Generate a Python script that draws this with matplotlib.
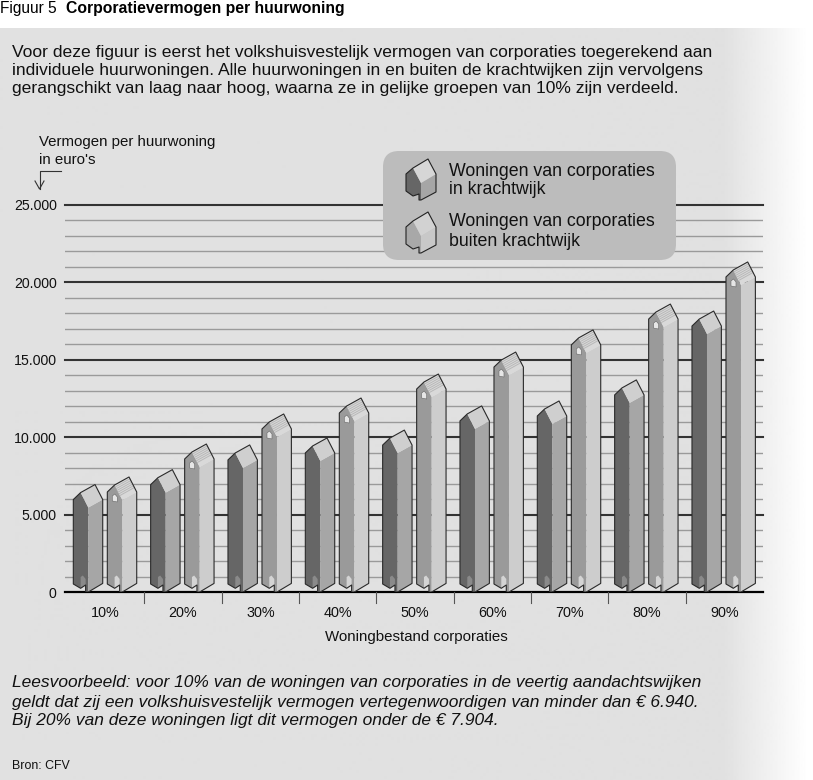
"""
Figuur 5 - Corporatievermogen per huurwoning
"""

import numpy as np
import matplotlib
matplotlib.use("Agg")
import matplotlib.pyplot as plt
from matplotlib.patches import Polygon, FancyBboxPatch

plt.rcParams["font.family"] = ["Liberation Sans", "DejaVu Sans"]

W, H = 813, 780

# =============================================================================
# Data (values read at the roof peak of each house)
# =============================================================================

categories = ["10%", "20%", "30%", "40%", "50%", "60%", "70%", "80%", "90%"]
binnen = [6940, 7904, 9500, 9950, 10460, 12020, 12340, 13700, 18150]
buiten = [7430, 9560, 11500, 12530, 14080, 15500, 16930, 18600, 21320]
y_ticks = [0, 5000, 10000, 15000, 20000, 25000]
y_labels = ["0", "5.000", "10.000", "15.000", "20.000", "25.000"]

intro = ["Voor deze figuur is eerst het volkshuisvestelijk vermogen van corporaties toegerekend aan",
         "individuele huurwoningen. Alle huurwoningen in en buiten de krachtwijken zijn vervolgens",
         "gerangschikt van laag naar hoog, waarna ze in gelijke groepen van 10% zijn verdeeld."]
lees = ["Leesvoorbeeld: voor 10% van de woningen van corporaties in de veertig aandachtswijken",
        "geldt dat zij een volkshuisvestelijk vermogen vertegenwoordigen van minder dan € 6.940.",
        "Bij 20% van deze woningen ligt dit vermogen onder de € 7.904."]

# =============================================================================
# Figure and background
# =============================================================================

fig = plt.figure(figsize=(W / 100, H / 100), dpi=100, facecolor="white")

bg = fig.add_axes([0, 0, 1, 1], zorder=0)
bg.axis("off")

# grey panel that fades out to white on the right
ramp = np.clip((np.arange(W) - 722) / 85, 0, 1)
fade = 0.88 + (1 - 0.88) * ramp
bg.imshow(fade[np.newaxis, :], extent=(0, W, H, 28), cmap="gray", vmin=0, vmax=1,
          aspect="auto", zorder=0)
bg.set_xlim(0, W)
bg.set_ylim(H, 0)

bg.text(0, 8, "Figuur 5", fontsize=11.2, va="center", ha="left")
bg.text(66, 8, "Corporatievermogen per huurwoning", fontsize=11.3, fontweight="bold",
        va="center", ha="left")

for i, line in enumerate(intro):
    bg.text(12, 52.5 + i * 18, line, fontsize=12.6, va="center", ha="left", color="#111111")
for i, line in enumerate(lees):
    bg.text(12, 683 + i * 19, line, fontsize=12.5, style="italic", va="center", ha="left",
            color="#111111")
bg.text(12, 766, "Bron: CFV", fontsize=8.9, va="center", ha="left", color="#111111")

bg.text(39, 142, "Vermogen per huurwoning", fontsize=10.8, va="center", ha="left", color="#111111")
bg.text(39, 160, "in euro's", fontsize=10.8, va="center", ha="left", color="#111111")
bg.text(416, 637, "Woningbestand corporaties", fontsize=10.8, va="center", ha="center",
        color="#111111")

# small bent arrow under the axis title
bg.plot([61, 39.5, 39.5], [171, 171, 189], color="#333333", lw=0.8)
bg.plot([35, 39.5, 44], [181, 189, 181], color="#333333", lw=0.8)

# =============================================================================
# Chart
# =============================================================================

ax = fig.add_axes([65 / W, 1 - 592 / H, 698 / W, 387 / H], zorder=1)
ax.patch.set_alpha(0)
PX = 77.33  # pixels per category
UY = 25000 / 387  # value units per pixel
ax.set_xlim(-0.5 - 2 / PX, 8.5)
ax.set_ylim(0, 25000)
for s in ax.spines.values():
    s.set_visible(False)

ax.set_yticks(y_ticks)
ax.set_yticklabels(y_labels, fontsize=10.2, color="#111111")
ax.tick_params(axis="y", which="both", length=0, pad=6)
ax.set_xticks(range(9))
ax.set_xticklabels(categories, fontsize=10.4, color="#111111")
ax.tick_params(axis="x", which="major", length=0, pad=10)

for v in np.arange(1000, 25000, 1000):
    if v % 5000:
        ax.axhline(v, color="#9a9a9a", lw=1, zorder=1)
for v in y_ticks[1:]:
    ax.axhline(v, color="#333333", lw=1.5, zorder=1.2, clip_on=False)
ax.axhline(0, color="black", lw=1.6, zorder=1.5, clip_on=False)

# group separators below the base line
for edge in np.arange(0.5, 8.5):
    ax.plot([edge, edge], [0, -11 * UY], color="#555555", lw=0.8, clip_on=False)


def house(axis, x_left, value, left_c, right_c, roof_c, door_c, striped=False):
    """Draw one house; x_left in categories, value = height of the roof peak."""
    def pts(offsets):
        out = []
        for dx, dy, base in offsets:
            y = dy * UY if base else value - dy * UY
            out.append((x_left + dx / PX, y))
        return out

    flat = dict(edgecolor="none", zorder=3)
    left = pts([(0, 15, 0), (7.3, 8, 0), (15, 23, 0), (15, 0, 1), (12.3, 0, 1),
                (12.3, 7, 1), (7.3, 3.7, 1), (0, 8, 1)])
    right = pts([(15, 23, 0), (29.4, 15, 0), (29.4, 8.6, 1), (15, 0, 1)])
    roof = pts([(7.3, 8, 0), (21.7, 0, 0), (29.4, 15, 0), (15, 23, 0)])
    axis.add_patch(Polygon(left, facecolor=left_c, **flat))
    axis.add_patch(Polygon(right, facecolor=right_c, **flat))
    axis.add_patch(Polygon(roof, facecolor=roof_c, **flat))

    # door at the foot of the left face
    door = pts([(7.3, 3.7, 1), (7.3, 15, 1), (9.5, 16.5, 1), (12.3, 13, 1), (12.3, 7, 1)])
    axis.add_patch(Polygon(door, facecolor=door_c, lw=0, zorder=3.1))

    if striped:
        # window in the gable and lines on the roof
        win = pts([(5, 19, 0), (7.5, 17, 0), (10, 20, 0), (10, 25, 0), (5, 24, 0)])
        axis.add_patch(Polygon(win, facecolor="#e6e6e6", edgecolor="#666666", lw=0.4, zorder=3.1))
        for t in np.linspace(0.12, 0.7, 6):
            a = (7.3 + t * 7.7, 8 + t * 15)
            b = (21.7 + t * 7.7, 0 + t * 15)
            axis.plot([x_left + a[0] / PX, x_left + b[0] / PX],
                      [value - a[1] * UY, value - b[1] * UY],
                      color="#b8b8b8", lw=0.7, zorder=3.2)

    outline = pts([(0, 15, 0), (7.3, 8, 0), (21.7, 0, 0), (29.4, 15, 0), (29.4, 8.6, 1), (15, 0, 1),
                   (12.3, 0, 1), (12.3, 7, 1), (7.3, 3.7, 1), (0, 8, 1)])
    axis.add_patch(Polygon(outline, facecolor="none", edgecolor="#2a2a2a", lw=0.8,
                           joinstyle="round", zorder=3.3))


for i in range(9):
    house(ax, i - 32.35 / PX, binnen[i], "#666666", "#a6a6a6", "#cfcfcf", "#8a8a8a")
    house(ax, i + 1.65 / PX, buiten[i], "#9a9a9a", "#cdcdcd", "#d9d9d9", "#d4d4d4", striped=True)

# =============================================================================
# Legend
# =============================================================================

ov = fig.add_axes([0, 0, 1, 1], zorder=2)
ov.set_xlim(0, W)
ov.set_ylim(H, 0)
ov.axis("off")
ov.add_patch(FancyBboxPatch((399, 167), 261, 77, boxstyle="round,pad=16,rounding_size=16",
                            facecolor="#bcbcbc", edgecolor="none"))


def icon(x, y, left_c, right_c, roof_c):
    flat = dict(edgecolor="none")
    ov.add_patch(Polygon([(x, y + 15), (x + 7, y + 9), (x + 15, y + 24), (x + 15, y + 41),
                          (x + 13, y + 41), (x + 13, y + 35), (x + 7, y + 37), (x, y + 32)],
                         facecolor=left_c, **flat))
    ov.add_patch(Polygon([(x + 15, y + 24), (x + 30, y + 15), (x + 30, y + 33), (x + 15, y + 41)],
                         facecolor=right_c, **flat))
    ov.add_patch(Polygon([(x + 7, y + 9), (x + 22, y), (x + 30, y + 15), (x + 15, y + 24)],
                         facecolor=roof_c, **flat))
    ov.add_patch(Polygon([(x, y + 15), (x + 7, y + 9), (x + 22, y), (x + 30, y + 15), (x + 30, y + 33),
                          (x + 15, y + 41), (x + 13, y + 41), (x + 13, y + 35), (x + 7, y + 37),
                          (x, y + 32)], facecolor="none", edgecolor="#222222", lw=0.8,
                         joinstyle="round"))


icon(406, 159, "#666666", "#a6a6a6", "#d6d6d6")
icon(406, 212, "#a8a8a8", "#c8c8c8", "#d2d2d2")
for y0, lines in [(171, ["Woningen van corporaties", "in krachtwijk"]),
                  (222, ["Woningen van corporaties", "buiten krachtwijk"])]:
    ov.text(449, y0, lines[0], fontsize=12.8, va="center", ha="left", color="#111111")
    ov.text(449, y0 + 19, lines[1], fontsize=12.8, va="center", ha="left", color="#111111")

fig.savefig("out.png", dpi=100)
